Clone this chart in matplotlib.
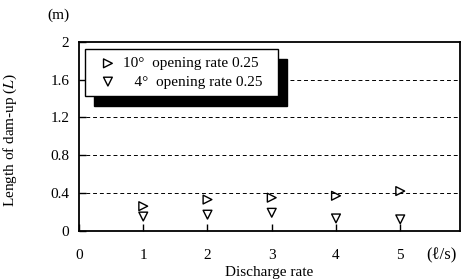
import matplotlib
matplotlib.use('Agg')
import matplotlib.pyplot as plt
from matplotlib.patches import Rectangle

plt.rcParams['font.family'] = ['Liberation Serif', 'DejaVu Serif']
plt.rcParams['mathtext.fontset'] = 'stix'

# discharge rate (l/s)
discharge = [1, 2, 3, 4, 5]
# length of dam-up (m)
dam_up_10deg = [0.26, 0.33, 0.35, 0.37, 0.42]
dam_up_4deg = [0.15, 0.17, 0.19, 0.13, 0.12]
label_10deg = '10\u00b0  opening rate 0.25  '
label_4deg = '\u2007 4\u00b0  opening rate 0.25  '

y_ticks = [0, 0.4, 0.8, 1.2, 1.6, 2]
y_tick_labels = ['0', '0.4', '0.8', '1.2', '1.6', '2']
x_ticks = [0, 1, 2, 3, 4, 5]

W, H = 466, 280
fig = plt.figure(figsize=(W / 100, H / 100), dpi=100)
ax = fig.add_axes([79 / W, 1 - 230.7 / H, (460 - 79) / W, (230.7 - 42) / H])

ax.scatter(discharge, dam_up_10deg, marker='>', s=40, facecolors='none',
           edgecolors='black', linewidths=1.0, label=label_10deg, zorder=3)
ax.scatter(discharge, dam_up_4deg, marker='v', s=40, facecolors='none',
           edgecolors='black', linewidths=1.0, label=label_4deg, zorder=3)

ax.set_xlim(0, 5.93)
ax.set_ylim(0, 2)
ax.set_yticks(y_ticks)
ax.set_yticklabels(y_tick_labels)
ax.set_xticks(x_ticks)
for y in y_ticks[1:-1]:
    ax.axhline(y, color='black', linestyle=(0, (4, 3)), linewidth=0.7, zorder=1)

for s in ax.spines.values():
    s.set_linewidth(1.3)
ax.tick_params(axis='both', direction='in', length=5, width=1, labelsize=11)
ax.tick_params(axis='x', pad=13)
ax.tick_params(axis='y', pad=7)

ax.set_xlabel('Discharge rate', fontsize=11, labelpad=3)
ax.set_ylabel('Length of dam-up ($\\mathit{L}$)', fontsize=11)
ax.yaxis.set_label_coords(-0.157, 0.48)
fig.text(58 / W, 1 - 15 / H, '(m)', fontsize=11, ha='center', va='center')
fig.text(441 / W, 1 - 255 / H, '(\u2113/s)', fontsize=12, ha='center', va='center')

leg = ax.legend(loc='upper left', bbox_to_anchor=(85 / W, 1 - 49 / H),
                bbox_transform=fig.transFigure, fancybox=False, framealpha=1,
                edgecolor='black', fontsize=11, handletextpad=0.0,
                borderpad=0.5, labelspacing=0.3, handlelength=2.0,
                borderaxespad=0)
leg.get_frame().set_linewidth(1.0)

fig.canvas.draw()
bb = leg.get_window_extent().transformed(fig.transFigure.inverted())
shadow = Rectangle((bb.x0 + 9 / W, bb.y0 - 10 / H), bb.width, bb.height,
                   transform=fig.transFigure, facecolor='black',
                   edgecolor='black', zorder=4)
ax.add_artist(shadow)
leg.set_zorder(5)

fig.savefig('out.png', dpi=100)
